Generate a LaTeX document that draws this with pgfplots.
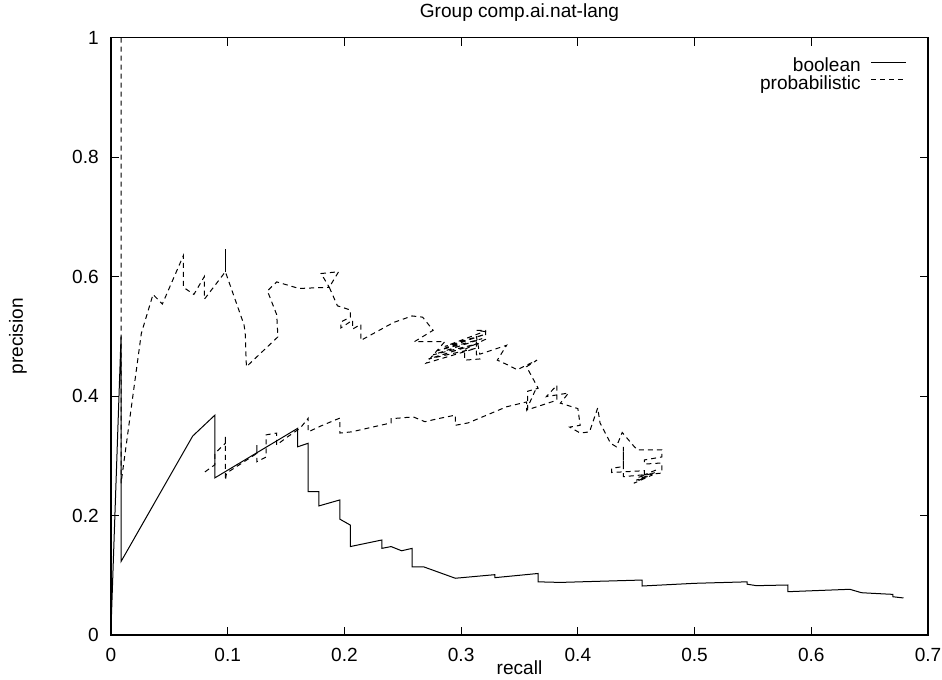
\documentclass[border=0pt]{standalone}
\usepackage{pgfplots}
\pgfplotsset{compat=1.18}
\usepackage{fontspec}
\setmainfont{Liberation Sans}

\begin{document}
\begin{tikzpicture}[font=\fontsize{14.3}{16}\selectfont]
% picture measured in px of the reference, 1px = 0.75pt
\useasboundingbox (0,0) rectangle (706.5pt,509.25pt);
\begin{axis}[
  at={(83.25pt,33pt)}, anchor=south west,
  scale only axis, width=612.75pt, height=448.1pt,
  xmin=0, xmax=0.7, ymin=0, ymax=1,
  xtick={0,0.1,0.2,0.3,0.4,0.5,0.6,0.7},
  xticklabels={0,0.1,0.2,0.3,0.4,0.5,0.6,0.7},
  ytick={0,0.2,0.4,0.6,0.8,1},
  yticklabels={0,0.2,0.4,0.6,0.8,1},
  tick align=inside, major tick length=6pt,
  tick style={black, line width=0.75pt},
  axis line style={line width=1.2pt},
  tick label style={font=\fontsize{14.3}{16}\selectfont},
  xticklabel style={inner sep=0pt, yshift=-10pt},
  yticklabel style={inner sep=0pt, xshift=-9pt},
  title={Group comp.ai.nat-lang},
  title style={at={(0.5,1)}, anchor=center, yshift=12.4pt, inner sep=0pt,
    font=\fontsize{14.3}{16}\selectfont},
  xlabel={recall},
  xlabel style={at={(0.5,0)}, anchor=center, yshift=-24.75pt, inner sep=0pt,
    font=\fontsize{14.3}{16}\selectfont},
  ylabel={precision},
  ylabel style={at={(0,0.5)}, anchor=center, yshift=69.75pt, inner sep=0pt,
    font=\fontsize{14.3}{16}\selectfont},
  legend cell align=right, legend plot pos=right,
  legend image code/.code={\draw[#1] (0pt,3.5pt) -- (26.25pt,3.5pt);},
  legend style={draw=none, fill=none, inner sep=0pt, outer sep=0pt,
    font=\fontsize{14.3}{16}\selectfont,
    nodes={inner sep=0pt, text height=10.3pt, text depth=3pt},
    column sep=7.5pt, row sep=0pt,
    at={(0.974,0.966)}, anchor=north east},
]
\addplot[black, line width=0.75pt] coordinates {
 (0,0.01) (0.0086,0.50) (0.0086,0.123) (0.070,0.333) (0.089,0.368)
 (0.089,0.263) (0.160,0.346) (0.160,0.315) (0.169,0.321) (0.169,0.240)
 (0.178,0.240) (0.178,0.216) (0.196,0.226) (0.196,0.194) (0.205,0.184)
 (0.205,0.148) (0.232,0.159) (0.232,0.145) (0.240,0.148) (0.249,0.141)
 (0.258,0.145) (0.258,0.114) (0.268,0.114) (0.295,0.095) (0.329,0.101)
 (0.329,0.096) (0.366,0.103) (0.366,0.089) (0.385,0.088) (0.402,0.089)
 (0.455,0.092) (0.455,0.082) (0.500,0.0865) (0.545,0.089) (0.545,0.085)
 (0.553,0.0826) (0.580,0.0837) (0.580,0.0725) (0.633,0.0765) (0.643,0.0708)
 (0.652,0.0698) (0.670,0.068) (0.670,0.064) (0.679,0.062)
};
\addlegendentry{boolean}
\addplot[black, line width=0.75pt, dash pattern=on 3.75pt off 3pt] coordinates {
 (0.0086,1.0) (0.0086,0.254) (0.026,0.505) (0.036,0.570) (0.044,0.554)
 (0.062,0.635) (0.062,0.582) (0.071,0.570) (0.080,0.600) (0.080,0.562)
 (0.098,0.608) (0.114,0.519) (0.115,0.505) (0.116,0.449) (0.143,0.499)
 (0.142,0.536) (0.134,0.576) (0.142,0.591) (0.161,0.580) (0.187,0.582)
 (0.180,0.605) (0.195,0.608) (0.187,0.582) (0.194,0.551) (0.205,0.544)
 (0.205,0.532) (0.197,0.524) (0.197,0.514) (0.207,0.527) (0.207,0.512)
 (0.214,0.520) (0.214,0.493) (0.242,0.523) (0.258,0.534) (0.267,0.532)
 (0.276,0.510) (0.260,0.491) (0.286,0.491) (0.270,0.455) (0.313,0.480)
 (0.272,0.462) (0.315,0.488) (0.276,0.469) (0.318,0.496) (0.280,0.476)
 (0.320,0.503) (0.286,0.483) (0.320,0.508) (0.313,0.510) (0.321,0.510)
 (0.321,0.495) (0.303,0.478) (0.303,0.460) (0.316,0.462) (0.313,0.470)
 (0.313,0.500) (0.316,0.470) (0.339,0.485) (0.331,0.460) (0.340,0.452)
 (0.348,0.444) (0.365,0.460) (0.356,0.449) (0.366,0.413) (0.357,0.408)
 (0.357,0.377) (0.382,0.393) (0.382,0.418) (0.373,0.399) (0.392,0.405)
 (0.385,0.388) (0.400,0.379) (0.402,0.351) (0.393,0.348) (0.402,0.338)
 (0.410,0.340) (0.417,0.380) (0.419,0.355) (0.428,0.321) (0.433,0.315)
 (0.438,0.339) (0.448,0.316) (0.451,0.310) (0.472,0.310) (0.472,0.298)
 (0.457,0.293) (0.457,0.286) (0.472,0.288) (0.472,0.271) (0.439,0.265)
 (0.439,0.315) (0.439,0.282) (0.429,0.279) (0.429,0.272) (0.457,0.275)
 (0.457,0.264) (0.448,0.254) (0.464,0.268) (0.450,0.259) (0.466,0.272)
 (0.452,0.264) (0.468,0.277)
};
\addlegendentry{probabilistic}
\addplot[black, line width=0.75pt, dash pattern=on 3.75pt off 3pt, forget plot] coordinates {
 (0.0805,0.273) (0.089,0.285) (0.089,0.304) (0.098,0.321) (0.098,0.332)
 (0.098,0.259) (0.099,0.271) (0.125,0.304) (0.125,0.318) (0.125,0.290)
 (0.133,0.298) (0.133,0.335) (0.142,0.338) (0.142,0.318) (0.150,0.330)
 (0.162,0.346) (0.169,0.363) (0.169,0.340) (0.180,0.350) (0.196,0.363)
 (0.196,0.338) (0.206,0.340) (0.240,0.355) (0.240,0.362) (0.259,0.365)
 (0.269,0.357) (0.280,0.362) (0.295,0.368) (0.295,0.351) (0.306,0.355)
 (0.339,0.382) (0.356,0.390) (0.356,0.377) (0.365,0.416)
};
\addplot[black, line width=0.75pt, forget plot] coordinates {
 (0.098,0.608) (0.098,0.646)
};
\end{axis}
\end{tikzpicture}
\end{document}
